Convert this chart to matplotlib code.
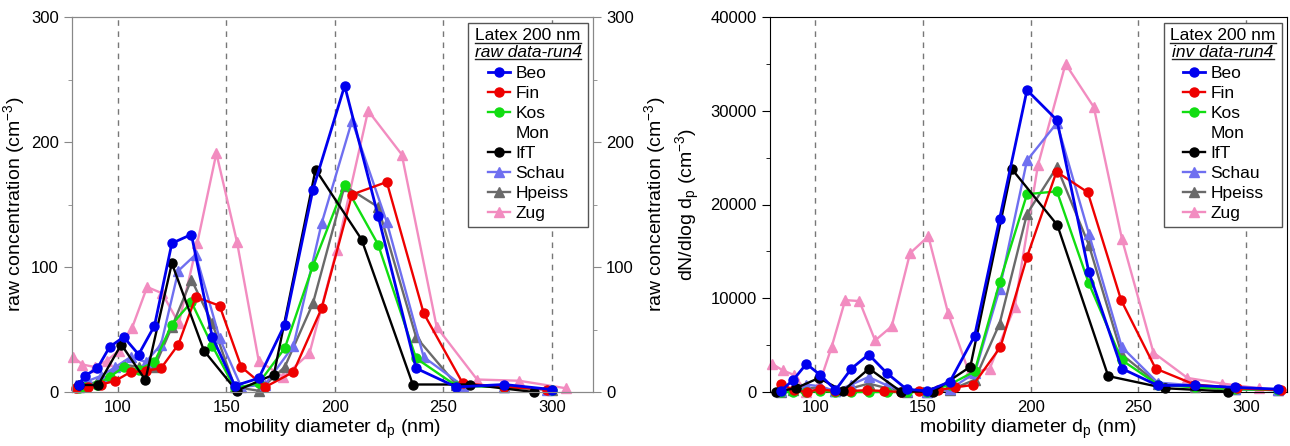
import matplotlib
matplotlib.use("Agg")
import matplotlib.pyplot as plt
from matplotlib.lines import Line2D
from matplotlib.ticker import MultipleLocator

plt.rcParams['font.family'] = ['Liberation Sans', 'DejaVu Sans']
plt.rcParams['mathtext.fontset'] = 'custom'
plt.rcParams['mathtext.rm'] = 'Liberation Sans'
plt.rcParams['mathtext.it'] = 'Liberation Sans:italic'

# ---- raw data-run4 (left panel), diameters in nm, counts in cm^-3
beo_raw_d = [82, 85, 90.7, 96.3, 102.8, 109.7, 117, 125, 134, 143.6, 154, 165, 177, 190, 204.6, 220, 237.5, 256, 278, 300]
beo_raw = [6, 13, 19, 36, 44, 30, 53, 119, 126, 44, 5, 11, 54, 162, 245, 141, 19, 4, 6, 2]
fin_raw_d = [81, 86.5, 92.5, 99, 106, 113, 120, 128, 136, 147, 157, 168, 181, 194, 208, 224, 241, 259, 278, 298]
fin_raw = [3, 4, 6, 9, 16, 17, 19, 38, 76, 69, 20, 4, 16, 67, 158, 168, 63, 7, 4, 2]
kos_raw_d = beo_raw_d
kos_raw = [3, 4, 6, 12, 20, 18, 24, 54, 72, 37, 3, 7, 35, 101, 166, 118, 27, 5, 4, 2]
ift_raw_d = [82, 91, 101.7, 112.8, 125, 139.8, 154.8, 172, 191.2, 212.4, 236, 262.5, 291.7]
ift_raw = [5.6, 5.6, 38, 9.6, 103, 33, 1, 14, 178, 122, 6, 6, 0]
schau_raw_d = fin_raw_d
schau_raw = [6, 9, 13, 20, 28, 24, 38, 97, 110, 43, 4, 6, 37, 135, 217, 136, 28, 5, 4, 2]
hpeiss_raw_d = beo_raw_d
hpeiss_raw = [4, 6, 8, 14, 22, 20, 20, 52, 90, 55, 4, 1, 20, 71, 165, 148, 44, 6, 4, 2]
zug_raw_d = [79.6, 83.8, 89.4, 95, 100.5, 106.6, 113.6, 120.5, 128.2, 136.7, 145.5, 155, 165, 176.4, 188.4, 201, 215.4, 230.9, 247, 265.6, 285, 306.5]
zug_raw = [28, 22, 20, 25, 33, 51, 84, 79, 55, 119, 191, 120, 25, 12, 31, 114, 225, 190, 52, 10, 9, 3]

# ---- inverted data-run4 (right panel), dN/dlog dp
beo_inv_d = [84, 89.8, 95.9, 102.4, 109.4, 116.8, 124.8, 133.3, 142.4, 152, 162.5, 174, 185.6, 198.3, 212.2, 227, 242.3, 259, 276.4, 294.9, 315]
beo_inv = [100, 1300, 3000, 1800, 200, 2500, 4000, 2000, 300, 100, 1100, 6000, 18500, 32200, 29000, 12800, 2500, 700, 700, 500, 300]
fin_inv_d = [84, 90, 96, 102, 109, 116, 124, 132, 140, 148, 157, 165, 173.3, 186, 198.3, 212, 226.5, 242, 258, 276, 296, 316]
fin_inv = [900, 200, 0, 300, 100, 100, 200, 100, 0, 100, 200, 500, 750, 4800, 14400, 23500, 21300, 9800, 2500, 800, 400, 200]
kos_inv_d = beo_inv_d
kos_inv = [0, 0, 0, 100, 0, 0, 0, 0, 0, 0, 800, 2200, 11700, 21100, 21400, 11600, 3400, 800, 500, 300, 200]
ift_inv_d = ift_raw_d
ift_inv = [50, 400, 1500, 100, 2500, 50, 50, 2700, 23800, 17800, 1700, 400, 50]
schau_inv_d = beo_inv_d
schau_inv = [100, 500, 800, 600, 100, 800, 1600, 700, 100, 0, 300, 2000, 11000, 24700, 28700, 16900, 4800, 1000, 700, 300, 200]
hpeiss_inv_d = beo_inv_d
hpeiss_inv = [50, 200, 400, 500, 100, 400, 900, 400, 50, 0, 200, 1300, 7300, 19000, 24000, 15700, 4000, 900, 500, 300, 200]
zug_inv_d = [80, 85, 90.3, 95.8, 101.5, 107.6, 113.9, 120.5, 127.8, 135.5, 144, 152.5, 161.7, 171.5, 181, 192.6, 203.4, 216.2, 229.3, 242.4, 257, 272.8, 289, 306]
zug_inv = [3000, 2300, 1800, 0, 600, 4800, 9800, 9700, 5500, 7000, 14800, 16600, 8400, 2000, 2500, 9100, 24200, 35000, 30400, 16300, 4200, 1500, 900, 400]

names = ["Beo", "Fin", "Kos", "Mon", "IfT", "Schau", "Hpeiss", "Zug"]
colors = ["#0000ee", "#ee0000", "#11dd11", "none", "#000000", "#6f6ff0", "#6a6a6a", "#f28cc0"]
markers = ["o", "o", "o", "", "o", "^", "^", "^"]

raw_sets = [(beo_raw_d, beo_raw), (fin_raw_d, fin_raw), (kos_raw_d, kos_raw), None,
            (ift_raw_d, ift_raw), (schau_raw_d, schau_raw), (hpeiss_raw_d, hpeiss_raw), (zug_raw_d, zug_raw)]
inv_sets = [(beo_inv_d, beo_inv), (fin_inv_d, fin_inv), (kos_inv_d, kos_inv), None,
            (ift_inv_d, ift_inv), (schau_inv_d, schau_inv), (hpeiss_inv_d, hpeiss_inv), (zug_inv_d, zug_inv)]
zorders = [9, 6, 5, 0, 8, 4, 3, 2]

W, H = 1290, 446
fig = plt.figure(figsize=(W / 100, H / 100), dpi=100)
ax1 = fig.add_axes([72 / W, 1 - 392 / H, (593 - 72) / W, 375 / H])
ax2 = fig.add_axes([770 / W, 1 - 392 / H, (1287 - 770) / W, 375 / H])

xlabel = "mobility diameter d$_{\\rm p}$ (nm)"


def draw_panel(ax, sets):
    handles = []
    for name, c, m, s, z in zip(names, colors, markers, sets, zorders):
        if s is None:
            handles.append(Line2D([], [], color="none", label=name))
            continue
        lw = 2.0 if name == "Beo" else 1.7
        h, = ax.plot(s[0], s[1], color=c, marker=m, ms=6.5, lw=lw, zorder=z, label=name, clip_on=False)
        handles.append(h)
    for xv in [100, 150, 200, 250, 300]:
        ax.axvline(xv, color="#777777", lw=1, ls=(0, (4, 4)), zorder=1)
    ax.set_xlim(79, 319)
    ax.set_xticks([100, 150, 200, 250, 300])
    ax.set_xlabel(xlabel, fontsize=14, labelpad=2)
    ax.tick_params(labelsize=12)
    ax.tick_params(axis="x", length=0, pad=6)
    return handles


def add_legend(ax, handles, line2):
    leg = ax.legend(handles, names, title="Latex 200 nm\n" + line2, loc="upper right",
                    bbox_to_anchor=(0.99, 0.985), fontsize=12.5, title_fontsize=12.5,
                    frameon=True, fancybox=False, edgecolor="#555555", framealpha=1,
                    handlelength=1.3, handletextpad=0.3, labelspacing=0.28,
                    borderpad=0.35, borderaxespad=0.0)
    leg.get_frame().set_linewidth(1.0)
    # title only reserves the space; the styled header is drawn on top below
    leg.get_title().set_visible(False)
    leg.set_zorder(20)
    return leg


# left panel
h1 = draw_panel(ax1, raw_sets)
ax1.set_ylim(0, 300)
ax1.set_yticks([0, 100, 200, 300])
ax1.yaxis.set_minor_locator(MultipleLocator(50))
ax1.set_ylabel("raw concentration (cm$^{-3}$)", fontsize=14, labelpad=3)
for sp in ax1.spines.values():
    sp.set_color("#888888")
ax1.tick_params(axis="y", which="major", length=6, color="#888888")
ax1.tick_params(axis="y", which="minor", length=3, color="#888888")
ax1r = ax1.twinx()
ax1r.set_ylim(0, 300)
ax1r.set_yticks([0, 100, 200, 300])
ax1r.yaxis.set_minor_locator(MultipleLocator(50))
ax1r.tick_params(labelsize=12)
ax1r.tick_params(axis="y", which="major", length=6, color="#888888")
ax1r.tick_params(axis="y", which="minor", length=3, color="#888888")
ax1r.set_ylabel("raw concentration (cm$^{-3}$)", fontsize=14, labelpad=6)
for sp in ax1r.spines.values():
    sp.set_color("#888888")
leg1 = add_legend(ax1r, h1, "raw data-run4")

# right panel
h2 = draw_panel(ax2, inv_sets)
ax2.set_ylim(0, 40000)
ax2.set_yticks([0, 10000, 20000, 30000, 40000])
ax2.yaxis.set_minor_locator(MultipleLocator(5000))
ax2.tick_params(axis="y", which="major", length=6)
ax2.tick_params(axis="y", which="minor", length=3)
ax2.set_ylabel("dN/dlog d$_{\\rm p}$ (cm$^{-3}$)", fontsize=14, labelpad=6)
leg2 = add_legend(ax2, h2, "inv data-run4")

# header lines of the legends: underlined, second line italic
fig.canvas.draw()
r = fig.canvas.get_renderer()
inv = fig.transFigure.inverted()
for leg, line2 in [(leg1, "raw data-run4"), (leg2, "inv data-run4")]:
    bb = leg._legend_title_box.get_window_extent(r)
    fb = leg.get_frame().get_window_extent(r)
    (x0, y0), (x1, y1) = inv.transform([[fb.x0, bb.y0], [fb.x1, bb.y1]])
    cx = (x0 + x1) / 2
    hh = (y1 - y0) / 2
    t1 = fig.text(cx, y0 + hh + 0.28 * hh, "Latex 200 nm", ha="center", va="baseline", fontsize=12.5, zorder=30)
    t2 = fig.text(cx, y0 + 0.28 * hh, line2, ha="center", va="baseline", fontsize=12.5, style="italic", zorder=30)
    fig.canvas.draw()
    for t in (t1, t2):
        tb = t.get_window_extent(r)
        (a0, _), (a1, _) = inv.transform([[tb.x0, tb.y0], [tb.x1, tb.y1]])
        yb = t.get_position()[1] - 2.5 / H
        fig.add_artist(Line2D([a0, a1], [yb, yb], transform=fig.transFigure, color="#222222", lw=1.0, zorder=30))

fig.savefig("out.png", dpi=100)
